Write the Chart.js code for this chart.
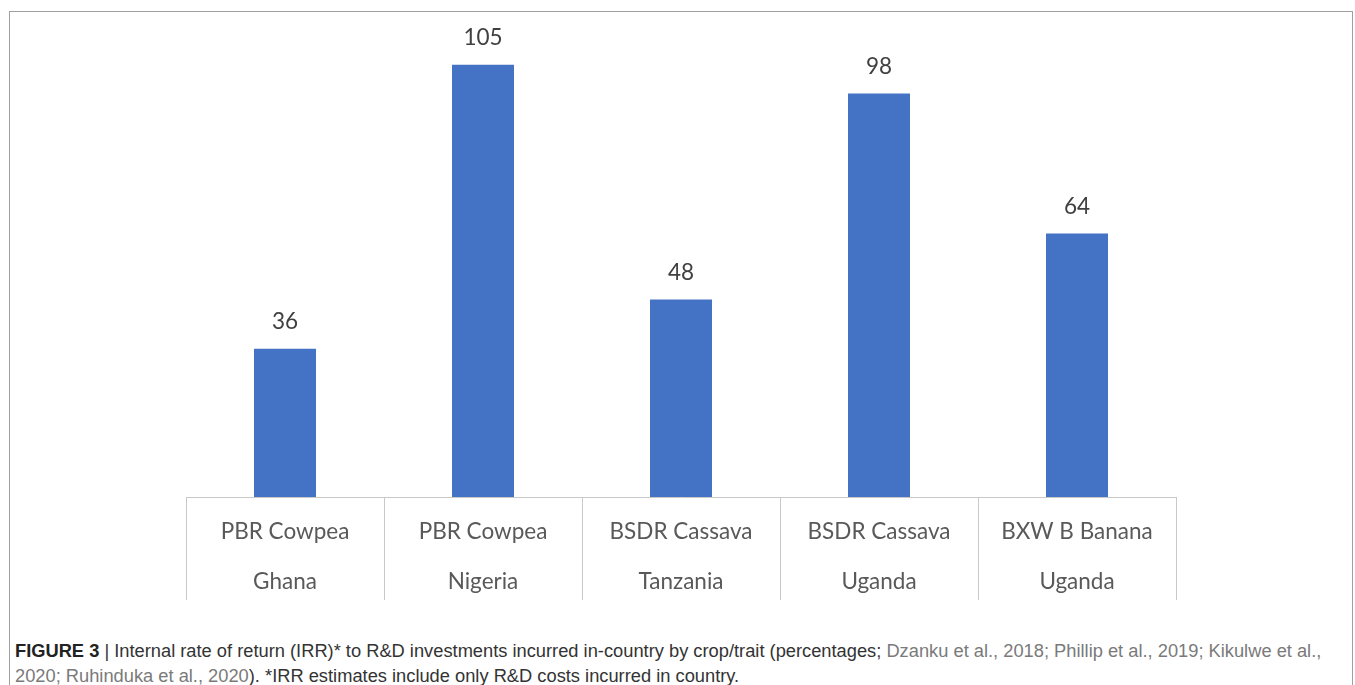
<!DOCTYPE html>
<html>
<head>
<meta charset="utf-8">
<script src="https://cdn.jsdelivr.net/npm/chart.js@4"></script>
<style>
  body { margin: 0; background: #fff; width: 1355px; height: 685px; overflow: hidden; position: relative; }
  #frame { position: absolute; left: 9px; top: 11px; width: 1344px; height: 700px;
           border: 1px solid #a0a0a0; border-bottom: none; box-sizing: border-box; }
  #chartBox { position: absolute; left: 0; top: 0; width: 1355px; height: 617px; }
  #caption { position: absolute; left: 15px; top: 638px; width: 1330px;
             font-family: "Liberation Sans Narrow", "Liberation Sans", Arial, sans-serif;
             font-size: 18.3px; line-height: 25px; color: #333; }
  #caption b { color: #222; }
  #caption .ref { color: #7a7a7a; }
</style>
</head>
<body>
<div id="frame"></div>
<div id="chartBox"><canvas id="chartIRR"></canvas></div>
<div id="caption"><b>FIGURE 3</b> | Internal rate of return (IRR)* to R&amp;D investments incurred in-country by crop/trait (percentages; <span class="ref">Dzanku et al., 2018; Phillip et al., 2019; Kikulwe et al., 2020; Ruhinduka et al., 2020</span>). *IRR estimates include only R&amp;D costs incurred in country.</div>
<script>
// Datos del gráfico
const categorias = [
    ['PBR Cowpea', 'Ghana'],
    ['PBR Cowpea', 'Nigeria'],
    ['BSDR Cassava', 'Tanzania'],
    ['BSDR Cassava', 'Uganda'],
    ['BXW B Banana', 'Uganda']
];
const valoresIRR = [36, 105, 48, 98, 64];

// Etiquetas encima de cada barra
const etiquetasBarras = {
    id: 'etiquetasBarras',
    afterDatasetsDraw(chart) {
        const ctx = chart.ctx;
        const meta = chart.getDatasetMeta(0);
        ctx.save();
        ctx.font = '22.5px Lato, "Open Sans", sans-serif';
        ctx.fillStyle = '#404040';
        ctx.textAlign = 'center';
        ctx.textBaseline = 'middle';
        meta.data.forEach((bar, i) => {
            ctx.fillText(String(valoresIRR[i]), bar.x, bar.y - 27);
        });
        ctx.restore();
    }
};

// Separadores verticales de la tabla de categorías (debajo del eje)
const separadores = {
    id: 'separadores',
    afterDraw(chart) {
        const ctx = chart.ctx;
        const x = chart.scales.x;
        const y0 = chart.chartArea.bottom;
        ctx.save();
        ctx.strokeStyle = '#c8c8c8';
        ctx.lineWidth = 1;
        for (let i = 0; i <= categorias.length; i++) {
            const px = Math.round(x.getPixelForValue(i - 0.5)) + 0.5;
            ctx.beginPath();
            ctx.moveTo(px, y0);
            ctx.lineTo(px, y0 + 103);
            ctx.stroke();
        }
        ctx.restore();
    }
};

const ctxIRR = document.getElementById('chartIRR').getContext('2d');
new Chart(ctxIRR, {
    type: 'bar',
    data: {
        labels: categorias,
        datasets: [{
            data: valoresIRR,
            backgroundColor: '#4472c4',
            categoryPercentage: 1,
            barPercentage: 0.313
        }]
    },
    options: {
        responsive: true,
        maintainAspectRatio: false,
        animation: false,
        layout: { padding: { left: 186, right: 179, top: 3, bottom: 0 } },
        plugins: { legend: { display: false }, tooltip: { enabled: false } },
        scales: {
            y: { display: false, min: 0, max: 120 },
            x: {
                offset: true,
                border: { display: true, color: '#c8c8c8', width: 1 },
                grid: { display: false, drawTicks: false, tickLength: 0 },
                ticks: {
                    padding: 10,
                    color: '#595959',
                    font: { family: 'Lato, "Open Sans", sans-serif', size: 22.5, lineHeight: 2.22 }
                }
            }
        }
    },
    plugins: [etiquetasBarras, separadores]
});
</script>
</body>
</html>
